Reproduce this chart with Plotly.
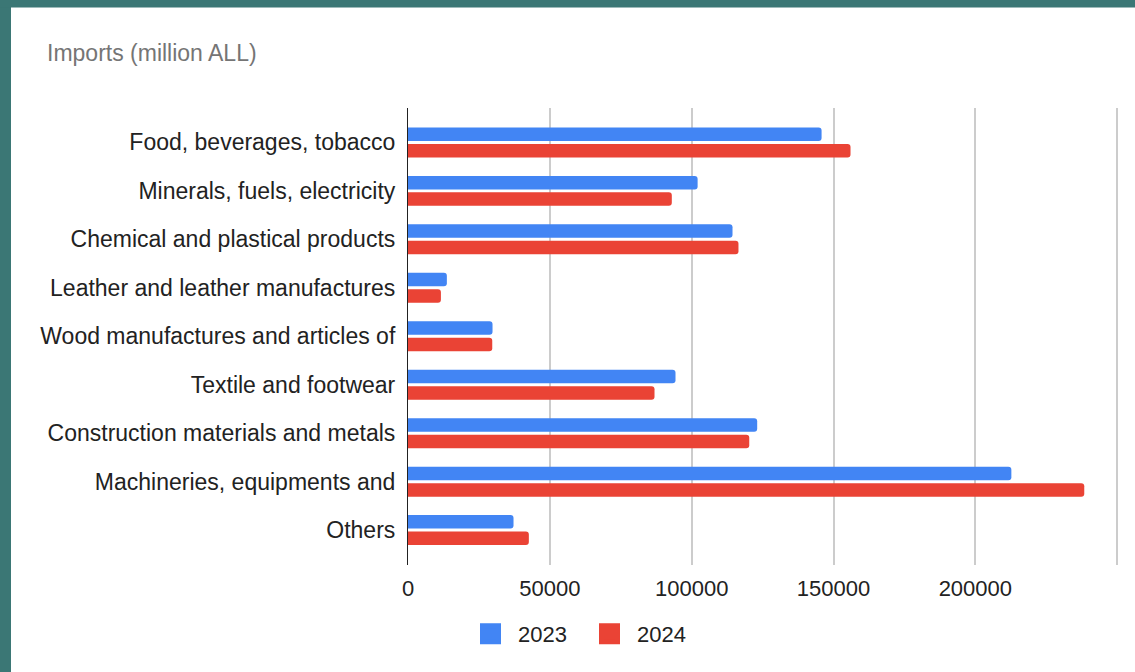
import plotly.graph_objects as go

# Import categories and yearly values (million ALL)
categories = [
    "Food, beverages, tobacco",
    "Minerals, fuels, electricity",
    "Chemical and plastical products",
    "Leather and leather manufactures",
    "Wood manufactures and articles of",
    "Textile and footwear",
    "Construction materials and metals",
    "Machineries, equipments and",
    "Others",
]
imports_2023 = [145800, 102100, 114400, 13700, 29800, 94300, 123100, 212700, 37200]
imports_2024 = [156000, 93000, 116500, 11600, 29700, 86900, 120300, 238400, 42600]

x_ticks = [0, 50000, 100000, 150000, 200000, 250000]
x_tick_text = ["0", "50000", "100000", "150000", "200000", ""]

series_names = ["2023", "2024"]
BLUE = "#4285F4"
RED = "#EA4335"
FRAME = "#3B7775"
FONT = "Liberation Sans, Arial"

W, H = 1135, 672
L, R, T, B = 408, 1120, 108, 567  # plot area in pixels
PW, PH = R - L, B - T


def px_x(px):
    return (px - L) / PW


def px_y(py):
    return (B - py) / PH


fig = go.Figure()
for name, vals, col in [(series_names[0], imports_2023, BLUE),
                        (series_names[1], imports_2024, RED)]:
    fig.add_trace(go.Bar(
        y=categories, x=vals, name=name, orientation="h",
        marker=dict(color=col, line=dict(width=0)),
        showlegend=False,
    ))
    # square legend swatch
    fig.add_trace(go.Scatter(
        x=[None], y=[None], mode="markers", name=name,
        marker=dict(symbol="square", size=16, color=col,
                    line=dict(color=col, width=5)),
        showlegend=True,
    ))

# frame edges (left and top)
fig.add_shape(type="rect", xref="paper", yref="paper", layer="above",
              x0=px_x(-5), x1=px_x(11), y0=px_y(H + 5), y1=px_y(-5),
              fillcolor=FRAME, line=dict(width=0))
fig.add_shape(type="rect", xref="paper", yref="paper", layer="above",
              x0=px_x(-5), x1=px_x(W + 5), y0=px_y(7), y1=px_y(-5),
              fillcolor=FRAME, line=dict(width=0))

fig.add_annotation(
    text="Imports (million ALL)", xref="paper", yref="paper",
    x=px_x(45), y=px_y(53), xanchor="left", yanchor="middle",
    showarrow=False, font=dict(family=FONT, size=23, color="#757575"),
)

fig.update_layout(
    width=W, height=H,
    margin=dict(l=L, r=W - R, t=T, b=H - B, pad=0),
    paper_bgcolor="white", plot_bgcolor="white",
    barmode="group", bargap=0.32, bargroupgap=0.18, barcornerradius=3,
    font=dict(family=FONT, color="#222222"),
    showlegend=True,
    legend=dict(
        orientation="h", xref="container", yref="container",
        x=463 / W, y=(H - 634) / H, xanchor="left", yanchor="middle",
        font=dict(family=FONT, size=22, color="#222222"),
        itemsizing="trace", itemwidth=45, entrywidth=59,
        bgcolor="rgba(0,0,0,0)",
    ),
    xaxis=dict(
        range=[0, 251000], tickvals=x_ticks, ticktext=x_tick_text,
        showgrid=True, gridcolor="#CCCCCC", gridwidth=1.5,
        zeroline=False, showline=False, ticks="",
        ticklabelstandoff=8,
        tickfont=dict(family=FONT, size=22, color="#222222"),
    ),
    yaxis=dict(
        type="category", range=[8.72, -0.71],
        showgrid=False, zeroline=False,
        showline=True, linecolor="#222222", linewidth=1.2, ticks="",
        ticklabelstandoff=7,
        tickfont=dict(family=FONT, size=23, color="#222222"),
    ),
)

fig.write_html("out.html")
